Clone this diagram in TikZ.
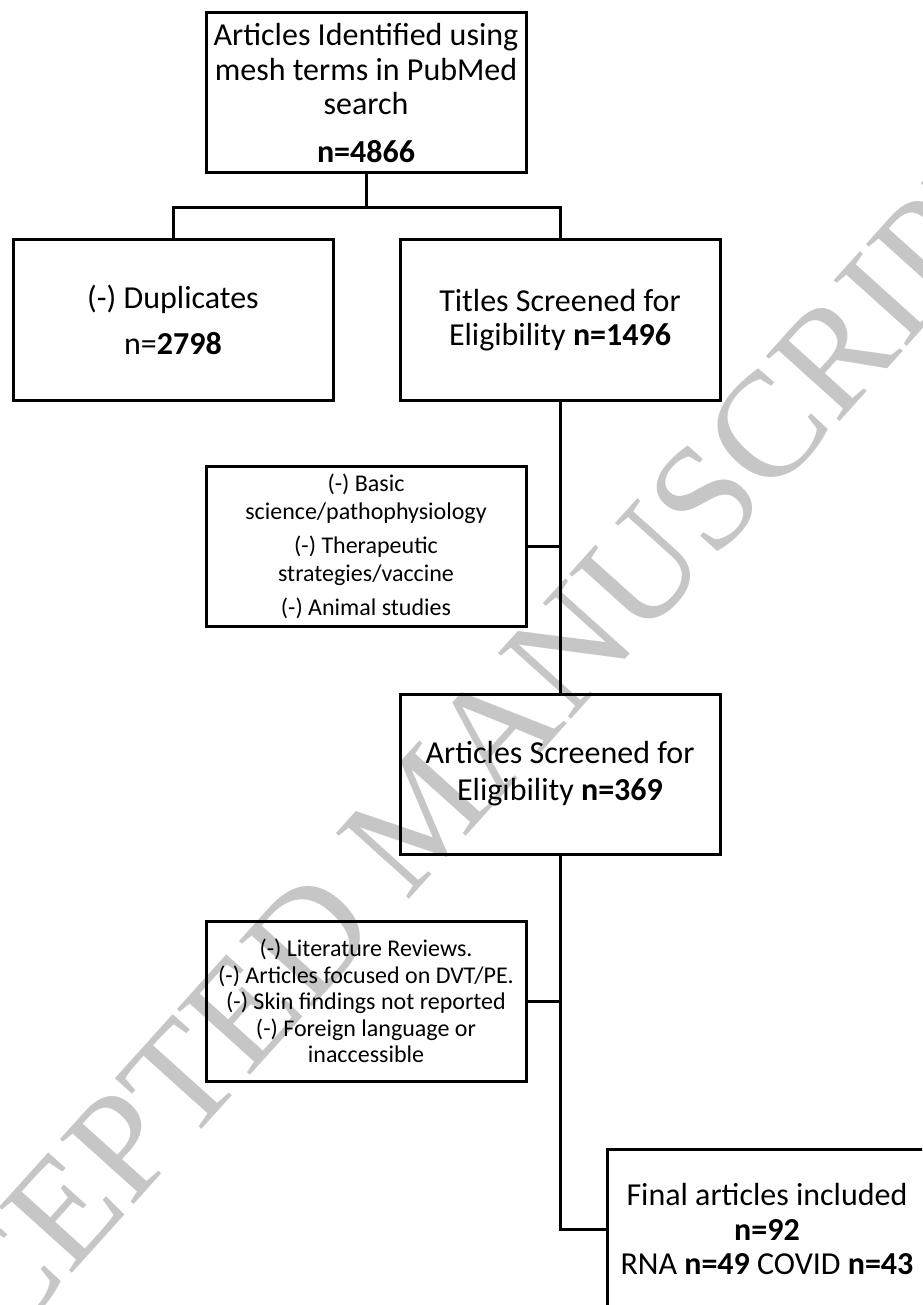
\documentclass[tikz,border=0pt]{standalone}
\usepackage{fontspec}
\usepackage{xcolor}
\usepackage{tikz}
\usetikzlibrary{positioning, calc}
\setmainfont{Carlito}
\newfontfamily\wmfont{Liberation Serif}
\definecolor{wmgray}{RGB}{198, 198, 198}

\begin{document}
\begin{tikzpicture}[
    x=1pt, y=-1pt,
    box/.style={rectangle, draw, line width=3pt, minimum width=320pt, minimum height=160pt,
        inner sep=0pt, align=center, font=\fontsize{32}{34.5}\selectfont},
    exclbox/.style={box, font=\fontsize{24}{26.5}\selectfont},
    link/.style={line width=3pt},
]
    \useasboundingbox (0,0) rectangle (922,1305);
    \clip (0,0) rectangle (922,1305);
    \fill[white] (0,0) rectangle (922,1305);
    % watermark behind the chart
    \node[text=wmgray, rotate=48, inner sep=0pt, font=\wmfont\fontsize{150}{150}\selectfont] (mark) at (422,812) {ACCEPTED MANUSCRIPT};

    \node[box] (found) at (366,93) {Articles Identified using\\mesh terms in PubMed\\search\\[13pt]\textbf{n=4866}};
    \node[box] (dups) at (173,320) {(-) Duplicates\\[11pt]n=\textbf{2798}};
    \node[box] (titles) at (560,320) {Titles Screened for\\Eligibility \textbf{n=1496}};
    \node[exclbox, font=\fontsize{24}{28.5}\selectfont] (exclA) at (366,546) {(-) Basic\\science/pathophysiology\\[5pt](-) Therapeutic\\strategies/vaccine\\[5pt](-) Animal studies};
    \node[box, font=\fontsize{32}{37}\selectfont] (screened) at (560,774) {Articles Screened for\\Eligibility \textbf{n=369}};
    \node[exclbox] (exclB) at (366,1001) {(-) Literature Reviews.\\(-) Articles focused on DVT/PE.\\(-) Skin findings not reported\\(-) Foreign language or\\inaccessible};
    \node[box] (final) at (767,1229) {Final articles included\\\textbf{n=92}\\RNA \textbf{n=49} COVID \textbf{n=43}};

    \coordinate (fork) at ($(found.south)+(0,33)$);
    \draw[link] (found.south) -- (fork);
    \draw[link] (fork) -| (dups.north);
    \draw[link] (fork) -| (titles.north);
    \draw[link] (titles.south) -- (screened.north);
    \draw[link] (exclA.east) -- (exclA.east -| titles.south);
    \draw[link] (screened.south) |- (final.west);
    \draw[link] (exclB.east) -- (exclB.east -| screened.south);
\end{tikzpicture}
\end{document}
